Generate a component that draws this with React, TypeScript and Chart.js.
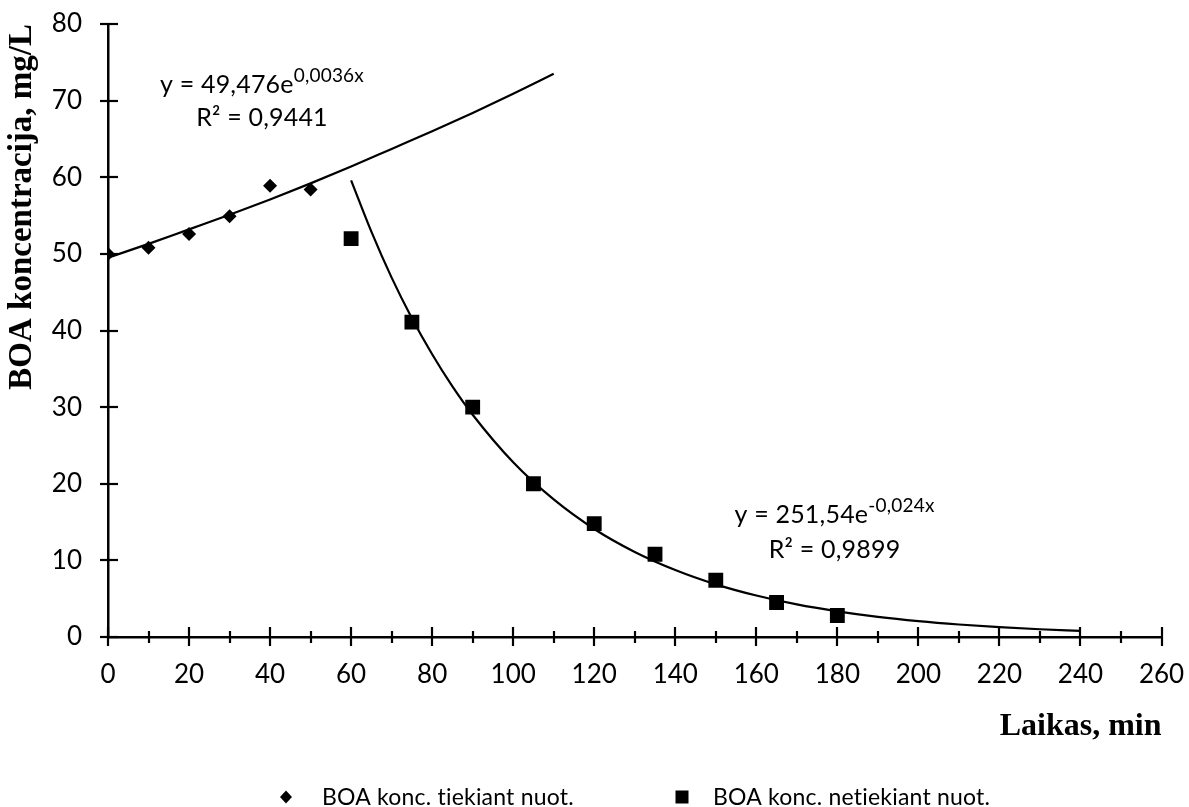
import React, { useEffect, useRef } from 'react';
import { Chart, registerables } from 'chart.js';

Chart.register(...registerables);

// ---- data ----
const tiekiantX = [0, 10, 20, 30, 40, 50];
const tiekiantY = [50.0, 50.8, 52.6, 54.9, 58.9, 58.4];

const netiekiantX = [60, 75, 90, 105, 120, 135, 150, 165, 180];
const netiekiantY = [52.0, 41.1, 30.0, 20.0, 14.8, 10.8, 7.4, 4.5, 2.8];

// exponential trend lines
const trendTiekiantX = [0, 10, 20, 30, 40, 50, 60, 70, 80, 90, 100, 110];
const trendTiekiantY = [49.5, 51.3, 53.2, 55.1, 57.1, 59.2, 61.4, 63.7, 66.0, 68.4, 70.9, 73.5];

const trendNetiekiantX = [60, 65, 70, 75, 80, 85, 90, 100, 110, 120, 130, 140, 150, 160, 170, 180, 190, 200, 210, 220, 230, 240];
const trendNetiekiantY = [59.6, 52.9, 46.9, 41.6, 36.9, 32.7, 29.0, 22.8, 17.95, 14.1, 11.1, 8.74, 6.87, 5.41, 4.25, 3.35, 2.63, 2.07, 1.63, 1.28, 1.01, 0.79];

const seriesLabels = ['BOA konc. tiekiant nuot.', 'BOA konc. netiekiant nuot.'];

const xTickValues = [0, 20, 40, 60, 80, 100, 120, 140, 160, 180, 200, 220, 240, 260];
const xMinorTickValues = [10, 30, 50, 70, 90, 110, 130, 150, 170, 190, 210, 230, 250];
const yTickValues = [0, 10, 20, 30, 40, 50, 60, 70, 80];

const xTitle = 'Laikas, min';
const yTitle = 'BOA koncentracija, mg/L';

const eqMain = ['y = 49,476e', 'y = 251,54e'];
const eqSup = ['0,0036x', '-0,024x'];
const eqR2 = ['R² = 0,9441', 'R² = 0,9899'];
// anchor (in data units): centre x, baseline of equation line, baseline of R² line
const eqAnchorX = [38, 179.3];
const eqLine1Y = [71.0, 14.9];
const eqLine2Y = [66.7, 10.3];

const SANS = 'Lato, "Open Sans", sans-serif';
const SERIF = '"Liberation Serif", "Times New Roman", serif';

const toPoints = (xs: number[], ys: number[]) => xs.map((x, i) => ({ x, y: ys[i] }));

const noScalePadding = (scale: any) => {
  scale.paddingTop = 0;
  scale.paddingBottom = 0;
  scale.paddingLeft = 0;
  scale.paddingRight = 0;
};

const ticksAndTextPlugin = {
  id: 'ticksAndText',
  afterDraw(chart: any) {
    const ctx = chart.ctx as any;
    const xs = chart.scales.x;
    const ys = chart.scales.y;
    const area = chart.chartArea;
    ctx.save();
    ctx.strokeStyle = '#000';
    ctx.lineWidth = 2.2;
    // x ticks (crossing the axis)
    const yAxis = area.bottom;
    xTickValues.forEach((v) => {
      const px = Math.round(xs.getPixelForValue(v));
      ctx.beginPath();
      ctx.moveTo(px, yAxis - 10);
      ctx.lineTo(px, yAxis + 9);
      ctx.stroke();
    });
    xMinorTickValues.forEach((v) => {
      const px = Math.round(xs.getPixelForValue(v));
      ctx.beginPath();
      ctx.moveTo(px, yAxis - 6);
      ctx.lineTo(px, yAxis + 6);
      ctx.stroke();
    });
    const xAxis = area.left;
    yTickValues.forEach((v) => {
      const py = Math.round(ys.getPixelForValue(v));
      ctx.beginPath();
      ctx.moveTo(xAxis - 8, py);
      ctx.lineTo(xAxis + 10, py);
      ctx.stroke();
    });

    // no ligatures (e.g. "ti")
    try { ctx.textRendering = 'optimizeSpeed'; } catch (e) {}
    try { ctx.letterSpacing = '0.2px'; } catch (e) {}

    // trend line equations
    ctx.fillStyle = '#000';
    ctx.textBaseline = 'alphabetic';
    const mainFont = `25px ${SANS}`;
    const supFont = `19px ${SANS}`;
    for (let i = 0; i < eqMain.length; i++) {
      const cx = xs.getPixelForValue(eqAnchorX[i]);
      const b1 = ys.getPixelForValue(eqLine1Y[i]);
      const b2 = ys.getPixelForValue(eqLine2Y[i]);
      ctx.font = mainFont;
      const wMain = ctx.measureText(eqMain[i]).width;
      ctx.font = supFont;
      const wSup = ctx.measureText(eqSup[i]).width;
      const start = cx - (wMain + wSup) / 2;
      ctx.textAlign = 'left';
      ctx.font = mainFont;
      ctx.fillText(eqMain[i], start, b1);
      ctx.font = supFont;
      ctx.fillText(eqSup[i], start + wMain, b1 - 11);
      ctx.font = mainFont;
      ctx.textAlign = 'center';
      ctx.fillText(eqR2[i], cx, b2);
    }

    // legend
    const legendY = 797;
    ctx.font = `23px ${SANS}`;
    ctx.textAlign = 'left';
    ctx.textBaseline = 'middle';
    const m1 = area.left + 178;
    const m2 = area.left + 574;
    // diamond
    ctx.beginPath();
    ctx.moveTo(m1, legendY - 6.5);
    ctx.lineTo(m1 + 6, legendY);
    ctx.lineTo(m1, legendY + 6.5);
    ctx.lineTo(m1 - 6, legendY);
    ctx.closePath();
    ctx.fill();
    ctx.fillText(seriesLabels[0], m1 + 36, legendY + 1);
    ctx.fillRect(m2 - 6.5, legendY - 6.5, 13, 13);
    ctx.fillText(seriesLabels[1], m2 + 31, legendY + 1);
    ctx.restore();
  },
};

export default function App() {
  const canvasRef = useRef<HTMLCanvasElement | null>(null);

  useEffect(() => {
    const canvas = canvasRef.current;
    if (!canvas) return;
    const chart = new Chart(canvas, {
      type: 'line',
      data: {
        datasets: [
          {
            label: seriesLabels[0],
            data: toPoints(tiekiantX, tiekiantY),
            showLine: false,
            pointStyle: 'rectRot',
            pointRadius: 7,
            pointBackgroundColor: '#000',
            pointBorderColor: '#000',
            pointBorderWidth: 0,
          },
          {
            label: seriesLabels[1],
            data: toPoints(netiekiantX, netiekiantY),
            showLine: false,
            pointStyle: 'rect',
            pointRadius: 10.5,
            pointBackgroundColor: '#000',
            pointBorderColor: '#000',
            pointBorderWidth: 0,
          },
          {
            label: 'trend1',
            data: toPoints(trendTiekiantX, trendTiekiantY),
            borderColor: '#000',
            borderWidth: 2.2,
            pointRadius: 0,
            pointHoverRadius: 0,
            cubicInterpolationMode: 'monotone',
            fill: false,
          },
          {
            label: 'trend2',
            data: toPoints(trendNetiekiantX, trendNetiekiantY),
            borderColor: '#000',
            borderWidth: 2.2,
            pointRadius: 0,
            pointHoverRadius: 0,
            cubicInterpolationMode: 'monotone',
            fill: false,
          },
        ],
      },
      options: {
        responsive: false,
        animation: false,
        devicePixelRatio: 1,
        layout: { padding: { left: 0, right: 27.5, top: 24, bottom: 0 } },
        plugins: {
          legend: { display: false },
          tooltip: { enabled: false },
        },
        scales: {
          x: {
            type: 'linear',
            min: 0,
            max: 260,
            afterFit: (scale: any) => {
              scale.height = 170;
              noScalePadding(scale);
            },
            ticks: {
              stepSize: 20,
              color: '#000',
              padding: 22,
              font: { family: SANS, size: 26 },
              maxRotation: 0,
            },
            grid: { display: false, drawTicks: false },
            border: { display: true, color: '#000', width: 2.5 },
            title: {
              display: true,
              text: xTitle,
              align: 'end',
              color: '#000',
              font: { family: SERIF, size: 32, weight: 'bold' },
              padding: { top: 0, bottom: 61 },
            },
          },
          y: {
            type: 'linear',
            min: 0,
            max: 80,
            afterFit: (scale: any) => {
              scale.width = 108;
              noScalePadding(scale);
            },
            ticks: {
              stepSize: 10,
              color: '#000',
              padding: 26,
              font: { family: SANS, size: 26 },
            },
            grid: { display: false, drawTicks: false },
            border: { display: true, color: '#000', width: 2.5 },
            title: {
              display: true,
              text: yTitle,
              align: 'end',
              color: '#000',
              font: { family: SERIF, size: 33, weight: 'bold' },
              padding: { top: 3, bottom: 0 },
            },
          },
        },
      },
      plugins: [ticksAndTextPlugin],
    } as any);
    return () => chart.destroy();
  }, []);

  return (
    <div style={{ position: 'fixed', left: 0, top: 0, width: 1189, height: 807, background: '#fff' }}>
      <canvas ref={canvasRef} width={1189} height={807} style={{ display: 'block' }} />
    </div>
  );
}
